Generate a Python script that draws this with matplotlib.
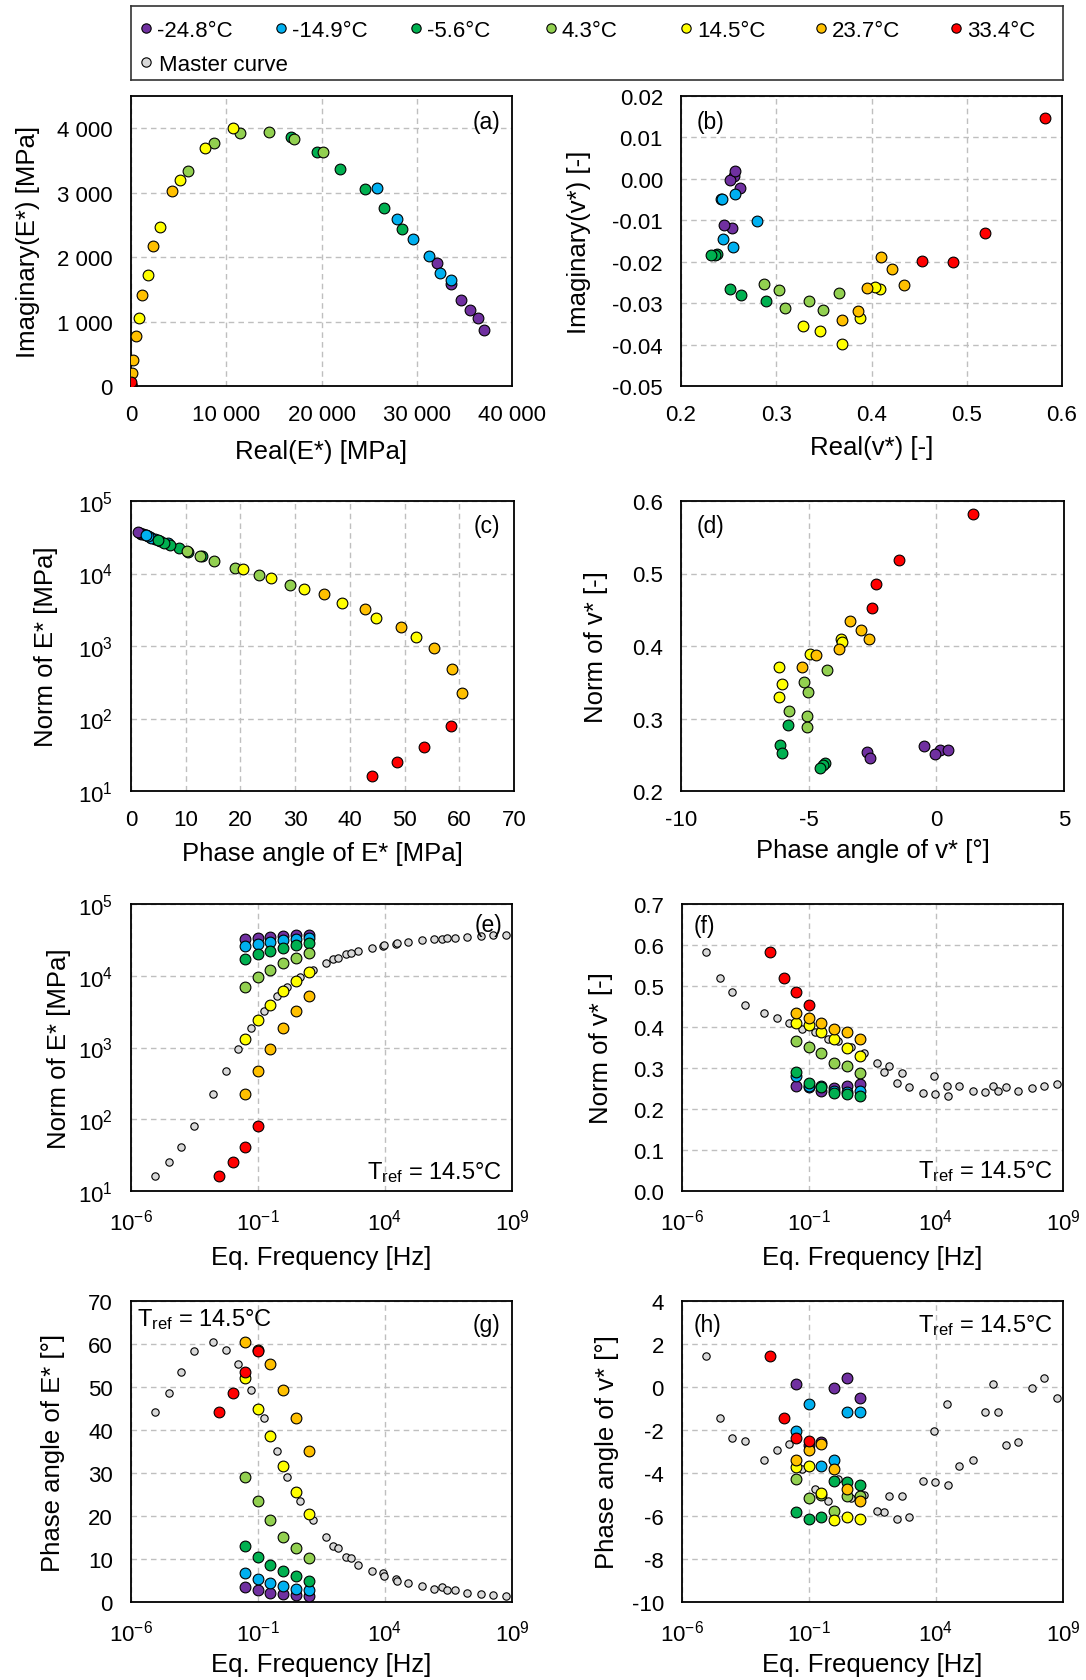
import matplotlib
matplotlib.use('Agg')
import matplotlib.pyplot as plt
import numpy as np
from matplotlib.ticker import FixedLocator, FuncFormatter, NullLocator

plt.rcParams['font.family'] = ['Liberation Sans', 'DejaVu Sans']
plt.rcParams['mathtext.fontset'] = 'custom'
plt.rcParams['mathtext.rm'] = 'Liberation Sans'
plt.rcParams['mathtext.it'] = 'Liberation Sans:italic'
plt.rcParams['mathtext.bf'] = 'Liberation Sans:bold'
plt.rcParams['mathtext.default'] = 'regular'
plt.rcParams['axes.unicode_minus'] = False

# temperatures and colours
temps = ['-24.8°C', '-14.9°C', '-5.6°C', '4.3°C', '14.5°C', '23.7°C', '33.4°C']
colors = ['#7030A0', '#00B0F0', '#00B050', '#92D050', '#FFFF00', '#FFC000', '#FF0000']

# test frequencies [Hz]
freqs = [
    [0.03, 0.1, 0.3, 1, 3, 10],
    [0.03, 0.1, 0.3, 1, 3, 10],
    [0.03, 0.1, 0.3, 1, 3, 10],
    [0.03, 0.1, 0.3, 1, 3, 10],
    [0.03, 0.1, 0.3, 1, 3, 10],
    [0.03, 0.1, 0.3, 1, 3, 10],
    [0.003, 0.01, 0.03, 0.1],
]

# norm of E* [MPa]
e_norm = [
    [32200, 33600, 34650, 35600, 36400, 37100],
    [26000, 28000, 29700, 31300, 32500, 33600],
    [17200, 19900, 22250, 24750, 26700, 28550],
    [6870, 9490, 12060, 15040, 17560, 20470],
    [1330, 2450, 3950, 6100, 8580, 11450],
    [225, 478, 950, 1850, 3200, 5250],
    [16.3, 25, 41, 80],
]

# phase angle of E* [deg]
e_phase = [
    [3.4, 2.7, 2.2, 1.9, 1.65, 1.35],
    [6.8, 5.3, 4.4, 3.7, 3.1, 2.8],
    [13.0, 10.5, 8.7, 7.1, 5.95, 4.9],
    [29.0, 23.4, 19.0, 15.2, 12.6, 10.2],
    [52.0, 44.8, 38.6, 31.6, 25.5, 20.5],
    [60.5, 58.7, 55.3, 49.4, 42.7, 35.2],
    [44.1, 48.7, 53.6, 58.4],
]

# norm of v* [-]
v_norm = [
    [0.256, 0.254, 0.245, 0.251, 0.257, 0.262],
    [0.280, 0.257, 0.255, 0.245, 0.242, 0.243],
    [0.291, 0.264, 0.253, 0.239, 0.236, 0.232],
    [0.367, 0.351, 0.336, 0.311, 0.304, 0.288],
    [0.410, 0.405, 0.389, 0.371, 0.348, 0.330],
    [0.435, 0.422, 0.410, 0.396, 0.387, 0.371],
    [0.582, 0.519, 0.486, 0.453],
]

# phase angle of v* [deg]
v_phase = [
    [0.15, -2.70, -2.58, -0.05, 0.44, -0.5],
    [-2.06, -0.8, -3.68, -3.4, -1.17, -1.17],
    [-5.8, -6.12, -6.05, -4.36, -4.44, -4.55],
    [-4.3, -5.18, -5.04, -5.77, -5.08, -5.05],
    [-3.72, -3.68, -4.95, -6.18, -6.06, -6.16],
    [-3.38, -2.95, -2.65, -3.83, -4.73, -5.28],
    [1.45, -1.45, -2.38, -2.52],
]

# shift factors log10(aT), Tref = 14.5°C
log_at = [7.76, 5.44, 3.47, 1.67, 0.0, -1.26, -2.52]

W, H = 1086, 1681
fig = plt.figure(figsize=(W / 100, H / 100), dpi=100)


def add_ax(x0, y0, x1, y1):
    return fig.add_axes([x0 / W, 1 - y1 / H, (x1 - x0) / W, (y1 - y0) / H])


def style(ax):
    ax.grid(True, color='#BFBFBF', ls=(0, (4, 3)), lw=1)
    ax.set_axisbelow(True)
    ax.tick_params(length=0, labelsize=16, pad=13)
    for s in ax.spines.values():
        s.set_color('black')
        s.set_linewidth(1.3)


def pts(ax, x, y, c):
    ax.scatter(x, y, s=60, c=c, edgecolors='black', linewidths=0.8, zorder=3)


def master(ax, y_list):
    for i in range(len(temps)):
        mf = np.array(freqs[i]) * 10 ** log_at[i]
        ax.scatter(mf, y_list[i], s=28, c='#D9D9D9', edgecolors='black', linewidths=0.8, zorder=2)


LS = 18.5
log_fmt = FuncFormatter(lambda v, p: '$10^{%d}$' % round(np.log10(v)))
thou_fmt = FuncFormatter(lambda v, p: f'{int(round(v)):,}'.replace(',', ' '))


def freq_axis(ax):
    ax.set_xscale('log')
    ax.set_xlim(1e-6, 1e9)
    ax.xaxis.set_major_locator(FixedLocator([1e-6, 1e-1, 1e4, 1e9]))
    ax.xaxis.set_minor_locator(NullLocator())
    ax.xaxis.set_major_formatter(log_fmt)


def tref(ax, x, y, ha):
    ax.text(x, y, 'T$_{ref}$ = 14.5°C', transform=ax.transAxes, ha=ha, va='baseline', fontsize=17, zorder=5)


def tag(ax, s, x, y, ha):
    ax.text(x, y, s, transform=ax.transAxes, ha=ha, va='top', fontsize=16.5, zorder=5)


# (a) Cole-Cole of E*
ax = add_ax(131, 97, 512, 387)
style(ax)
for i in range(len(temps)):
    ph = np.deg2rad(e_phase[i])
    pts(ax, np.array(e_norm[i]) * np.cos(ph), np.array(e_norm[i]) * np.sin(ph), colors[i])
ax.set_xlim(0, 40000)
ax.set_ylim(0, 4500)
ax.set_xticks([0, 10000, 20000, 30000, 40000])
ax.set_yticks([0, 1000, 2000, 3000, 4000])
ax.xaxis.set_major_formatter(thou_fmt)
ax.yaxis.set_major_formatter(thou_fmt)
ax.set_xlabel('Real(E*) [MPa]', fontsize=LS)
ax.set_ylabel('Imaginary(E*) [MPa]', fontsize=LS)
ax.xaxis.set_label_coords(0.5, -0.184)
ax.yaxis.set_label_coords(-0.24, 0.5)
tag(ax, '(a)', 0.97, 0.95, 'right')

# (b) Cole-Cole of v*
ax = add_ax(681, 97, 1062, 387)
style(ax)
for i in range(len(temps)):
    ph = np.deg2rad(v_phase[i])
    pts(ax, np.array(v_norm[i]) * np.cos(ph), np.array(v_norm[i]) * np.sin(ph), colors[i])
ax.set_xlim(0.2, 0.6)
ax.set_ylim(-0.05, 0.02)
ax.set_xticks([0.2, 0.3, 0.4, 0.5, 0.6])
ax.set_yticks([-0.05, -0.04, -0.03, -0.02, -0.01, 0.0, 0.01, 0.02])
ax.xaxis.set_major_formatter(FuncFormatter(lambda v, p: f'{v:.1f}'))
ax.yaxis.set_major_formatter(FuncFormatter(lambda v, p: f'{v:.2f}'.replace('-0.00', '0.00')))
ax.set_xlabel('Real(v*) [-]', fontsize=LS)
ax.set_ylabel('Imaginary(v*) [-]', fontsize=LS)
ax.xaxis.set_label_coords(0.5, -0.169)
ax.yaxis.set_label_coords(-0.235, 0.5)
tag(ax, '(b)', 0.04, 0.95, 'left')

# (c) Black diagram of E*
ax = add_ax(131, 502, 514, 792)
style(ax)
for i in range(len(temps)):
    pts(ax, e_phase[i], e_norm[i], colors[i])
ax.set_yscale('log')
ax.set_xlim(0, 70)
ax.set_ylim(10, 1e5)
ax.set_xticks(range(0, 71, 10))
ax.yaxis.set_major_locator(FixedLocator([1e1, 1e2, 1e3, 1e4, 1e5]))
ax.yaxis.set_minor_locator(NullLocator())
ax.yaxis.set_major_formatter(log_fmt)
ax.set_xlabel('Phase angle of E* [MPa]', fontsize=LS)
ax.set_ylabel('Norm of E* [MPa]', fontsize=LS)
ax.xaxis.set_label_coords(0.5, -0.174)
ax.yaxis.set_label_coords(-0.19, 0.5)
tag(ax, '(c)', 0.965, 0.955, 'right')

# (d) Black diagram of v* (the -14.9°C series is not drawn in the original)
ax = add_ax(681, 502, 1064, 792)
style(ax)
for i in range(len(temps)):
    if i == 1:
        continue
    pts(ax, v_phase[i], v_norm[i], colors[i])
ax.set_xlim(-10, 5)
ax.set_ylim(0.2, 0.6)
ax.set_xticks([-10, -5, 0, 5])
ax.set_yticks([0.2, 0.3, 0.4, 0.5, 0.6])
ax.yaxis.set_major_formatter(FuncFormatter(lambda v, p: f'{v:.1f}'))
ax.set_xlabel('Phase angle of v* [°]', fontsize=LS)
ax.set_ylabel('Norm of v* [-]', fontsize=LS)
ax.xaxis.set_label_coords(0.5, -0.161)
ax.yaxis.set_label_coords(-0.19, 0.5)
tag(ax, '(d)', 0.04, 0.955, 'left')

# (e) master curve, norm of E*
ax = add_ax(131, 905, 512, 1192)
style(ax)
master(ax, e_norm)
for i in range(len(temps)):
    pts(ax, freqs[i], e_norm[i], colors[i])
freq_axis(ax)
ax.set_yscale('log')
ax.set_ylim(10, 1e5)
ax.yaxis.set_major_locator(FixedLocator([1e1, 1e2, 1e3, 1e4, 1e5]))
ax.yaxis.set_minor_locator(NullLocator())
ax.yaxis.set_major_formatter(log_fmt)
ax.set_xlabel('Eq. Frequency [Hz]', fontsize=LS)
ax.set_ylabel('Norm of E* [MPa]', fontsize=LS)
ax.xaxis.set_label_coords(0.5, -0.189)
ax.yaxis.set_label_coords(-0.157, 0.5)
tag(ax, '(e)', 0.975, 0.97, 'right')
tref(ax, 0.975, 0.045, 'right')

# (f) master curve, norm of v*
ax = add_ax(682, 905, 1063, 1192)
style(ax)
master(ax, v_norm)
for i in range(len(temps)):
    pts(ax, freqs[i], v_norm[i], colors[i])
freq_axis(ax)
ax.set_ylim(0, 0.7)
ax.set_yticks([0, 0.1, 0.2, 0.3, 0.4, 0.5, 0.6, 0.7])
ax.yaxis.set_major_formatter(FuncFormatter(lambda v, p: f'{v:.1f}'))
ax.set_xlabel('Eq. Frequency [Hz]', fontsize=LS)
ax.set_ylabel('Norm of v* [-]', fontsize=LS)
ax.xaxis.set_label_coords(0.5, -0.189)
ax.yaxis.set_label_coords(-0.18, 0.5)
tag(ax, '(f)', 0.03, 0.965, 'left')
tref(ax, 0.975, 0.05, 'right')

# (g) master curve, phase angle of E*
ax = add_ax(131, 1302, 512, 1603)
style(ax)
master(ax, e_phase)
for i in range(len(temps)):
    pts(ax, freqs[i], e_phase[i], colors[i])
freq_axis(ax)
ax.set_ylim(0, 70)
ax.set_yticks(range(0, 71, 10))
ax.set_xlabel('Eq. Frequency [Hz]', fontsize=LS)
ax.set_ylabel('Phase angle of E* [°]', fontsize=LS)
ax.xaxis.set_label_coords(0.5, -0.167)
ax.yaxis.set_label_coords(-0.173, 0.5)
tag(ax, '(g)', 0.97, 0.96, 'right')
tref(ax, 0.016, 0.92, 'left')

# (h) master curve, phase angle of v*
ax = add_ax(682, 1302, 1063, 1603)
style(ax)
master(ax, v_phase)
for i in range(len(temps)):
    pts(ax, freqs[i], v_phase[i], colors[i])
freq_axis(ax)
ax.set_ylim(-10, 4)
ax.set_yticks(range(-10, 5, 2))
ax.set_xlabel('Eq. Frequency [Hz]', fontsize=LS)
ax.set_ylabel('Phase angle of v* [°]', fontsize=LS)
ax.xaxis.set_label_coords(0.5, -0.167)
ax.yaxis.set_label_coords(-0.165, 0.5)
tag(ax, '(h)', 0.03, 0.96, 'left')
tref(ax, 0.975, 0.90, 'right')

# legend box on top (Excel-like fixed column spacing), drawn in pixel units
lx0, ly0, lx1, ly1 = 131, 7, 1063, 81
lg = add_ax(lx0, ly0, lx1, ly1)
lg.set_xlim(lx0, lx1)
lg.set_ylim(ly1, ly0)
lg.set_xticks([])
lg.set_yticks([])
for s in lg.spines.values():
    s.set_color('#333333')
    s.set_linewidth(1.2)
col_w, first_x, row1, row2 = 135, 146, 29, 63
for i, (t, c) in enumerate(zip(temps, colors)):
    lg.scatter(first_x + i * col_w, row1, s=45, c=c, edgecolors='black', linewidths=0.8)
    lg.text(first_x + i * col_w + 11, row1, t, fontsize=16, va='center_baseline', ha='left')
lg.scatter(first_x, row2, s=45, c='#D9D9D9', edgecolors='black', linewidths=0.8)
lg.text(first_x + 13, row2, 'Master curve', fontsize=16, va='center_baseline', ha='left')

fig.savefig('out.png', dpi=100)
